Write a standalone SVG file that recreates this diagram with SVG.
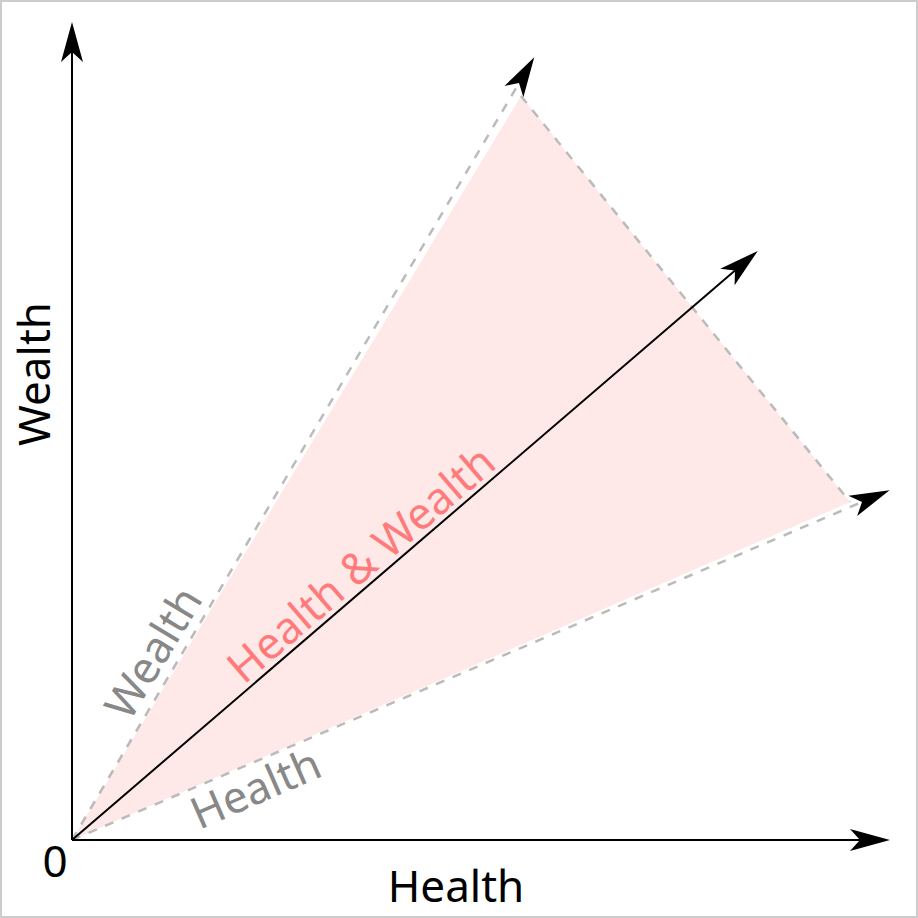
<svg xmlns="http://www.w3.org/2000/svg" width="918" height="918" viewBox="0 0 918 918">
<defs>
<marker id="ah" markerUnits="userSpaceOnUse" markerWidth="50" markerHeight="30" refX="10" refY="11" orient="auto" overflow="visible">
<path d="M40,11 L0,0 L10,11 L0,22 Z" fill="#000"/>
</marker>
<style>
.axis{stroke:#000;stroke-width:2;fill:none}
.dash{stroke:#bbb;stroke-width:2.5;stroke-dasharray:9 9;fill:none}
.lbl{font-family:"Noto Sans","Open Sans",sans-serif;font-size:44px}
.gray{fill:#888}
</style>
</defs>
<rect x="1" y="1" width="916" height="916" fill="#fff" stroke="#ccc" stroke-width="2"/>
<g id="region">
<polygon points="72,840 521,96 850,502" fill="#ffe8e8" stroke="none"/>
</g>
<g id="connectors">
<line class="dash" x1="521" y1="96" x2="850" y2="502"/>
<line class="dash" x1="72" y1="840" x2="519" y2="83" marker-end="url(#ah)"/>
<line class="dash" x1="72" y1="840" x2="862" y2="502" marker-end="url(#ah)"/>
<line class="axis" x1="72" y1="840" x2="735" y2="270.5" marker-end="url(#ah)"/>
<line class="axis" x1="72" y1="840" x2="860" y2="840" marker-end="url(#ah)"/>
<line class="axis" x1="72" y1="840" x2="72" y2="52" marker-end="url(#ah)"/>
</g>
<g id="labels">
<text class="lbl" x="55" y="877" text-anchor="middle">0</text>
<text class="lbl" x="456" y="902" text-anchor="middle">Health</text>
<text class="lbl" transform="translate(50,374) rotate(-90)" text-anchor="middle">Wealth</text>
<text class="lbl gray" transform="translate(152,652) rotate(-59)" text-anchor="middle" dominant-baseline="central">Wealth</text>
<text class="lbl gray" transform="translate(255,787) rotate(-23.6)" text-anchor="middle" dominant-baseline="central">Health</text>
<text class="lbl" fill="#ff7b7b" transform="translate(360,563) rotate(-40.65)" text-anchor="middle" dominant-baseline="central">Health &amp; Wealth</text>
</g>
</svg>
